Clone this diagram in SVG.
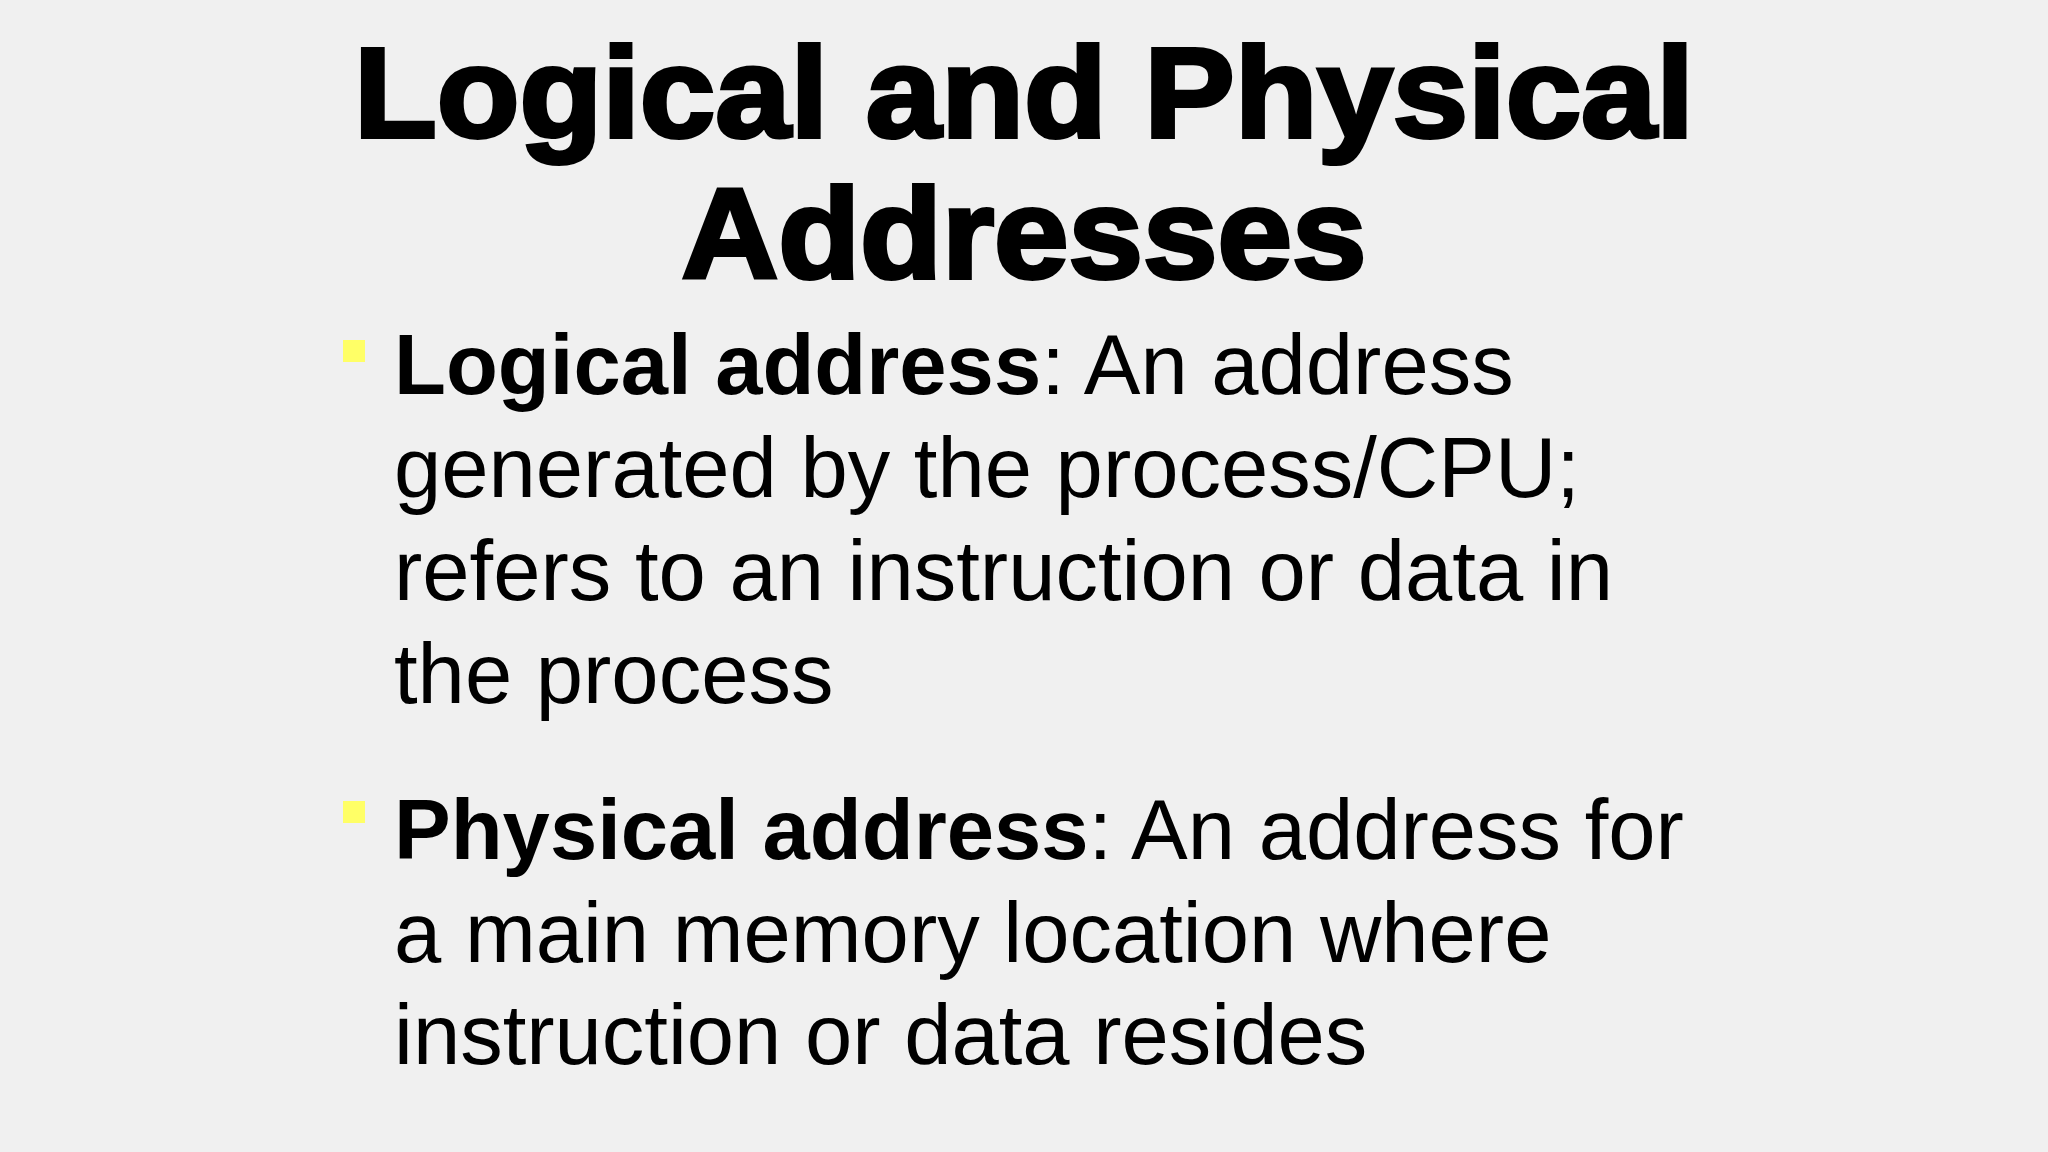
<svg xmlns="http://www.w3.org/2000/svg" width="2048" height="1152" viewBox="0 0 2048 1152">
<style>
.t{font-family:"Liberation Sans",Arial,sans-serif;font-weight:900;font-size:128px;fill:#000;stroke:#000;stroke-width:4px;text-anchor:middle}
.b{font-family:"Liberation Sans",Arial,sans-serif;font-size:85px;fill:#000}
.k{font-weight:bold}
.sq{fill:#ffff66}
</style>
<rect width="2048" height="1152" fill="#f0f0f0"/>
<g id="title">
<text class="t" x="1024" y="137" textLength="1340" lengthAdjust="spacingAndGlyphs">Logical and Physical</text>
<text class="t" x="1024" y="278" textLength="685" lengthAdjust="spacingAndGlyphs">Addresses</text>
</g>
<g id="bullet1">
<rect class="sq" x="343" y="340" width="22" height="22"/>
<text class="b" x="394" y="394"><tspan class="k">Logical address</tspan>: An address</text>
<text class="b" x="394" y="497">generated by the process/CPU;</text>
<text class="b" x="394" y="600">refers to an instruction or data in</text>
<text class="b" x="394" y="703">the process</text>
</g>
<g id="bullet2">
<rect class="sq" x="343" y="801" width="22" height="22"/>
<text class="b" x="394" y="859"><tspan class="k">Physical address</tspan>: An address for</text>
<text class="b" x="394" y="962">a main memory location where</text>
<text class="b" x="394" y="1064">instruction or data resides</text>
</g>
</svg>
